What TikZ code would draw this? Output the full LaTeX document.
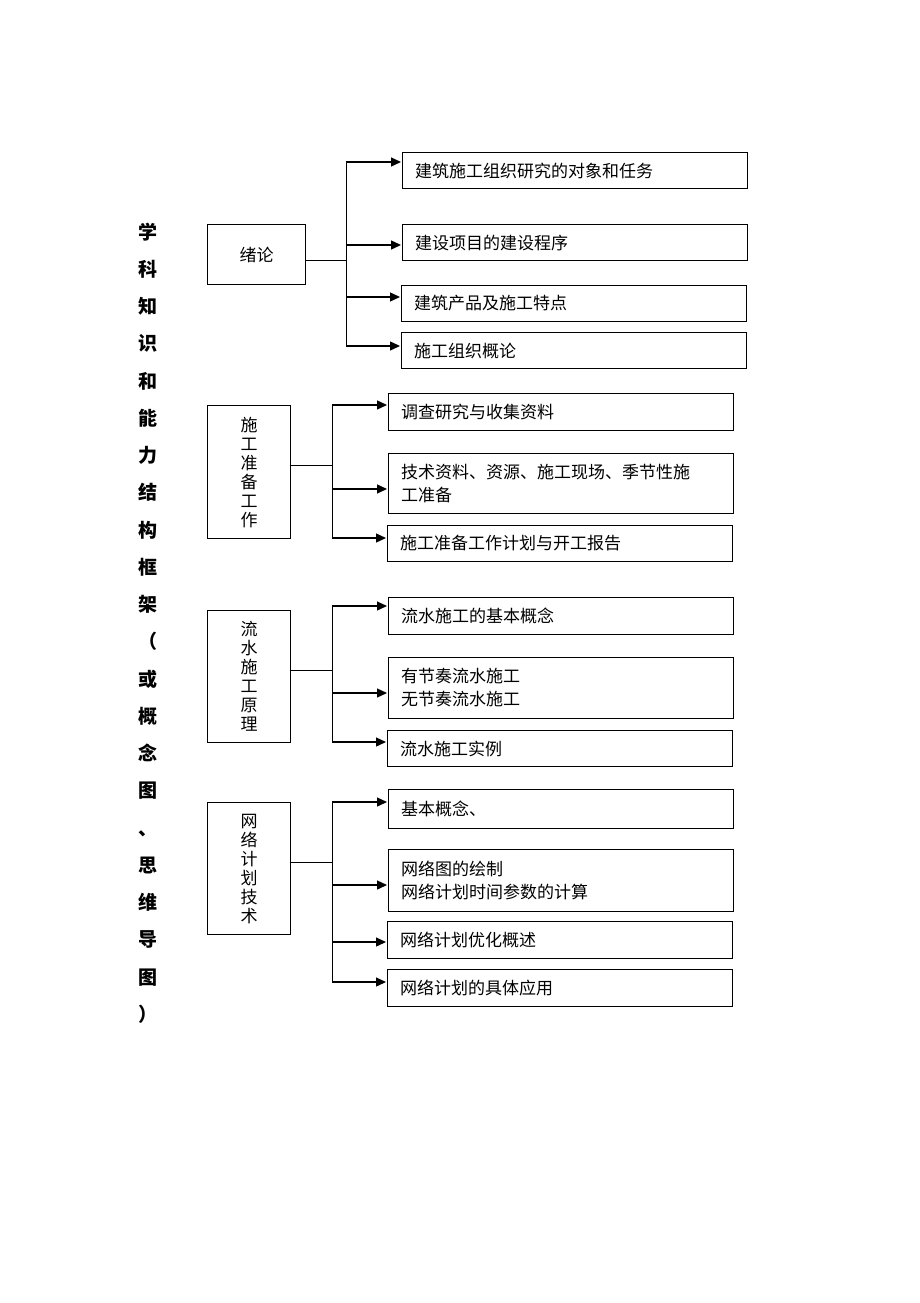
\documentclass[tikz,border=0pt]{standalone}
\usepackage{fontspec}
\setmainfont{Noto Sans CJK SC}
\usetikzlibrary{arrows.meta}
\begin{document}
\begin{tikzpicture}[x=1pt,y=1pt,
  box/.style={draw, line width=1.1pt, anchor=north west, inner ysep=0pt, inner xsep=12.5pt,
    align=left, text width=320pt, font=\fontsize{17}{23}\selectfont},
  parent/.style={draw, line width=1.1pt, anchor=north west, inner sep=0pt, align=center,
    font=\fontsize{17}{19}\selectfont},
  conn/.style={line width=1pt},
  arr/.style={line width=1.3pt, -{Triangle[length=10pt,width=9pt]}, shorten >=1pt}]
\useasboundingbox (0,0) rectangle (920,-1303);

% title
\node[align=center, font=\bfseries\fontsize{19}{37.25}\selectfont] (title) at (148,-623)
 {学\\科\\知\\识\\和\\能\\力\\结\\构\\框\\架\\（\\或\\概\\念\\图\\、\\思\\维\\导\\图\\）};

% group 1
\node[parent, minimum width=98pt, minimum height=60pt] (P1) at (207,-224) {绪论};
\node[box, minimum height=36pt] (A1) at (402,-152) {建筑施工组织研究的对象和任务};
\node[box, minimum height=36pt] (A2) at (402,-224) {建设项目的建设程序};
\node[box, minimum height=36pt] (A3) at (401,-285) {建筑产品及施工特点};
\node[box, minimum height=36pt] (A4) at (401,-332) {施工组织概论};
\coordinate (j1) at (346,-260);
\coordinate (t1a) at (346,-162);
\coordinate (t1b) at (346,-245);
\coordinate (t1c) at (346,-297);
\coordinate (t1d) at (346,-346);
\draw[conn] (j1 -| P1.east) -- (j1);
\draw[conn] (t1a) -- (t1d);
\draw[arr] (t1a) -- (t1a -| A1.west);
\draw[arr] (t1b) -- (t1b -| A2.west);
\draw[arr] (t1c) -- (t1c -| A3.west);
\draw[arr] (t1d) -- (t1d -| A4.west);

% group 2
\node[parent, minimum width=83pt, minimum height=133pt] (P2) at (207,-405) {施\\工\\准\\备\\工\\作};
\node[box, minimum height=37pt] (B1) at (388,-393) {调查研究与收集资料};
\node[box, minimum height=60pt] (B2) at (388,-453) {技术资料、资源、施工现场、季节性施\\工准备};
\node[box, minimum height=36pt] (B3) at (387,-525) {施工准备工作计划与开工报告};
\coordinate (j2) at (332,-465);
\coordinate (t2a) at (332,-405);
\coordinate (t2b) at (332,-489);
\coordinate (t2c) at (332,-538);
\draw[conn] (j2 -| P2.east) -- (j2);
\draw[conn] (t2a) -- (t2c);
\draw[arr] (t2a) -- (t2a -| B1.west);
\draw[arr] (t2b) -- (t2b -| B2.west);
\draw[arr] (t2c) -- (t2c -| B3.west);

% group 3
\node[parent, minimum width=83pt, minimum height=132pt] (P3) at (207,-610) {流\\水\\施\\工\\原\\理};
\node[box, minimum height=37pt] (C1) at (388,-597) {流水施工的基本概念};
\node[box, minimum height=61pt] (C2) at (388,-657) {有节奏流水施工\\无节奏流水施工};
\node[box, minimum height=36pt] (C3) at (387,-730) {流水施工实例};
\coordinate (j3) at (332,-670);
\coordinate (t3a) at (332,-606);
\coordinate (t3b) at (332,-693);
\coordinate (t3c) at (332,-742);
\draw[conn] (j3 -| P3.east) -- (j3);
\draw[conn] (t3a) -- (t3c);
\draw[arr] (t3a) -- (t3a -| C1.west);
\draw[arr] (t3b) -- (t3b -| C2.west);
\draw[arr] (t3c) -- (t3c -| C3.west);

% group 4
\node[parent, minimum width=83pt, minimum height=132pt] (P4) at (207,-802) {网\\络\\计\\划\\技\\术};
\node[box, minimum height=39pt] (D1) at (388,-789) {基本概念、};
\node[box, minimum height=62pt] (D2) at (388,-849) {网络图的绘制\\网络计划时间参数的计算};
\node[box, minimum height=37pt] (D3) at (387,-921) {网络计划优化概述};
\node[box, minimum height=37pt] (D4) at (387,-969) {网络计划的具体应用};
\coordinate (j4) at (332,-862);
\coordinate (t4a) at (332,-802);
\coordinate (t4b) at (332,-885);
\coordinate (t4c) at (332,-942);
\coordinate (t4d) at (332,-982);
\draw[conn] (j4 -| P4.east) -- (j4);
\draw[conn] (t4a) -- (t4d);
\draw[arr] (t4a) -- (t4a -| D1.west);
\draw[arr] (t4b) -- (t4b -| D2.west);
\draw[arr] (t4c) -- (t4c -| D3.west);
\draw[arr] (t4d) -- (t4d -| D4.west);
\end{tikzpicture}
\end{document}
